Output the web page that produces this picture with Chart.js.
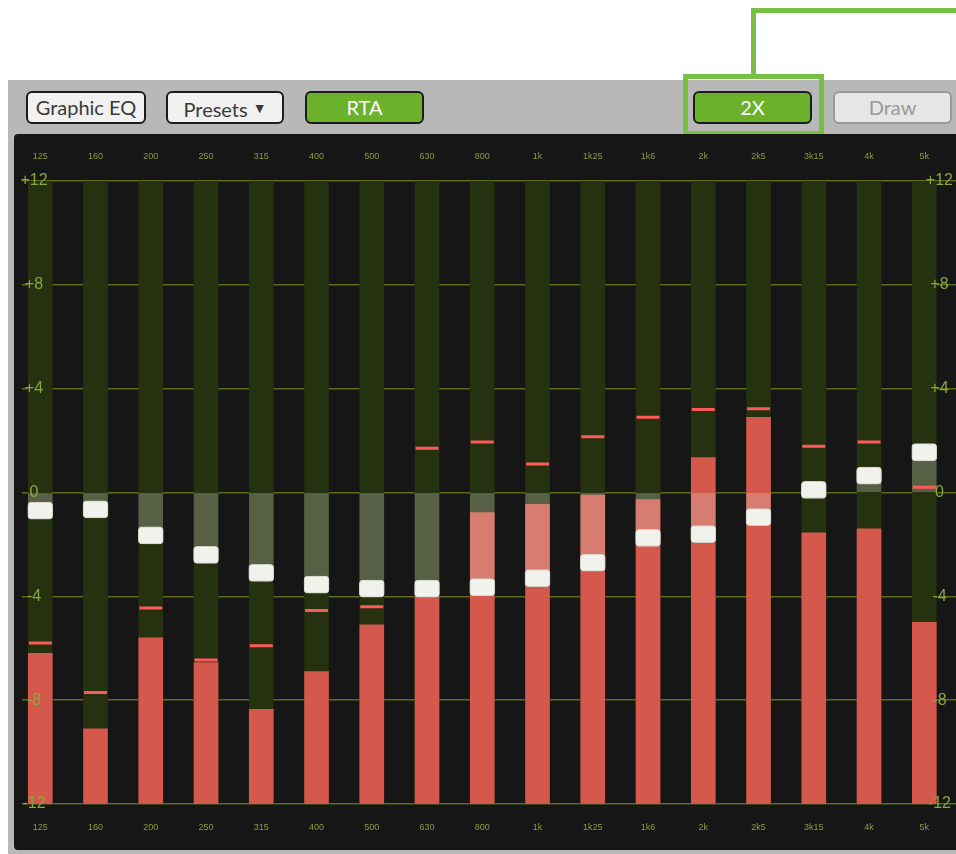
<!DOCTYPE html>
<html>
<head>
<meta charset="utf-8">
<title>Graphic EQ RTA</title>
<script src="https://cdn.jsdelivr.net/npm/chart.js@4.4.1/dist/chart.umd.min.js"></script>
<style>
  html, body { margin: 0; padding: 0; background: #fff; width: 956px; height: 854px; overflow: hidden; font-family: Lato, "Liberation Sans", sans-serif; }
  .frame { position: absolute; left: 8px; top: 80px; width: 948px; height: 774px; background: #b8b8b8; }
  .panel { position: absolute; left: 14px; top: 134px; width: 942px; height: 716px; background: #161616; border-radius: 4px 0 0 4px; }
  #eq { position: absolute; left: 14px; top: 135px; }
  .btn { position: absolute; top: 91px; box-sizing: border-box; height: 33px; border: 2px solid #1c1c1c; border-radius: 6px;
         background: #f1f1f1; color: #3a3a3a; font-size: 20px; line-height: 29px; text-align: center; }
  .btn.on { background: #6cb12a; color: #fff; }
  .btn.off { border-color: #9a9a9a; background: #e6e6e6; color: #9a9a9a; }
  .tri { font-size: 14px; vertical-align: 4px; margin-left: 5px; }
  .hl { position: absolute; left: 683px; top: 74px; width: 141px; height: 62px; box-sizing: border-box; border: 5px solid #78c043; }
  .lv { position: absolute; left: 751px; top: 8px; width: 5px; height: 67px; background: #78c043; }
  .lh { position: absolute; left: 751px; top: 8px; width: 205px; height: 5px; background: #78c043; }
</style>
</head>
<body>
<div class="frame"></div>
<div class="btn" style="left:26px;width:120px;">Graphic EQ</div>
<div class="btn" style="left:166px;width:118px;">Presets<span class="tri">&#9660;</span></div>
<div class="btn on" style="left:305px;width:119px;">RTA</div>
<div class="btn on" style="left:693px;width:119px;">2X</div>
<div class="btn off" style="left:833px;width:119px;">Draw</div>
<div class="hl"></div>
<div class="lv"></div>
<div class="lh"></div>
<div class="panel"></div>
<canvas id="eq" width="942" height="715"></canvas>
<script>
// band names (top and bottom labels)
const bands = ['125', '160', '200', '250', '315', '400', '500', '630', '800', '1k', '1k25', '1k6', '2k', '2k5', '3k15', '4k', '5k'];
// fader gain per band, dB
const gainDb = [-0.7, -0.65, -1.65, -2.4, -3.1, -3.55, -3.7, -3.7, -3.65, -3.3, -2.7, -1.75, -1.6, -0.95, 0.1, 0.65, 1.55];
// RTA level per band, dB
const rtaDb = [-6.2, -9.1, -5.6, -6.55, -8.35, -6.9, -5.1, -4.0, -0.77, -0.46, -0.1, -0.27, 1.35, 2.9, -1.55, -1.4, -5.0];
// RTA peak hold per band, dB
const peakDb = [-5.8, -7.7, -4.45, -6.45, -5.9, -4.55, -4.4, 1.7, 1.95, 1.1, 2.15, 2.9, 3.2, 3.23, 1.78, 1.95, 0.2];
// y tick labels
const yTicks = [-12, -8, -4, 0, 4, 8, 12];
const yTickLabels = ['-12', '-8', '-4', '0', '+4', '+8', '+12'];

const DB_MIN = -12, DB_MAX = 12;
const HANDLE = 0.33; // half height of fader cap in dB

const tickColor = '#8aa83a';
const gridColor = '#5b6a20';

function yLabel(v) {
  const i = yTicks.indexOf(v);
  return i < 0 ? '' : yTickLabels[i];
}

const xCommon = {
  type: 'linear',
  min: -0.323,
  max: 16.574,
  offset: false,
  grid: { display: false, drawTicks: false, offset: false },
  border: { display: false },
  ticks: {
    color: '#8d9a42',
    font: { size: 9, family: 'Liberation Sans' },
    padding: 18.6,
    maxRotation: 0,
    autoSkip: false,
    callback: v => bands[v]
  },
  afterBuildTicks: s => { s.ticks = bands.map((b, i) => ({ value: i })); },
  afterFit: s => { s.height = 46; }
};

// label-only y axis, labels drawn above the bars
function yLabels(position, padding) {
  return {
    type: 'linear',
    position: position,
    axis: 'y',
    min: DB_MIN,
    max: DB_MAX,
    border: { display: false },
    grid: { display: false, drawTicks: false },
    ticks: {
      z: 1,
      stepSize: 4,
      mirror: true,
      crossAlign: 'center',
      padding: padding,
      color: tickColor,
      font: { size: 16, family: 'Liberation Sans' },
      callback: yLabel
    },
    afterFit: s => { s.width = 0; }
  };
}

new Chart(document.getElementById('eq').getContext('2d'), {
  type: 'bar',
  data: {
    datasets: [
      {
        // fader caps
        label: 'gain',
        order: 0,
        data: gainDb.map((g, i) => ({ x: i, y: [g - HANDLE, g + HANDLE] })),
        backgroundColor: '#f2f2ec',
        borderColor: '#cfcfc6',
        borderWidth: 1,
        borderSkipped: false,
        borderRadius: 4,
        barThickness: 25,
        grouped: false
      },
      {
        // peak hold marks
        type: 'line',
        label: 'peak',
        order: 1,
        data: peakDb.map((p, i) => ({ x: i, y: p })),
        showLine: false,
        pointStyle: 'line',
        pointRadius: 11.5,
        pointBorderWidth: 3,
        pointBorderColor: '#ff5a5a',
        pointBackgroundColor: '#ff5a5a'
      },
      {
        // gain fill from 0 to fader
        label: 'gainFill',
        order: 2,
        data: gainDb.map((g, i) => ({ x: i, y: [0, g] })),
        backgroundColor: 'rgba(220,218,210,0.28)',
        borderSkipped: false,
        barThickness: 24,
        grouped: false
      },
      {
        // RTA level
        label: 'rta',
        order: 3,
        data: rtaDb.map((r, i) => ({ x: i, y: [DB_MIN, r] })),
        backgroundColor: '#d4584b',
        borderSkipped: false,
        barThickness: 24,
        grouped: false
      },
      {
        // band tracks
        label: 'track',
        order: 4,
        data: bands.map((b, i) => ({ x: i, y: [DB_MIN, DB_MAX] })),
        backgroundColor: '#25310f',
        borderSkipped: false,
        barThickness: 24,
        grouped: false
      }
    ]
  },
  options: {
    responsive: false,
    animation: false,
    events: [],
    layout: { padding: 0, autoPadding: false },
    plugins: { legend: { display: false }, tooltip: { enabled: false } },
    scales: {
      x: Object.assign({}, xCommon, { position: 'bottom' }),
      xTop: Object.assign({}, xCommon, { position: 'top', axis: 'x' }),
      y: {
        // grid only, under the bars
        type: 'linear',
        position: 'left',
        min: DB_MIN,
        max: DB_MAX,
        border: { display: false },
        grid: { color: gridColor, lineWidth: 1.5, drawTicks: false },
        ticks: { stepSize: 4, display: false },
        afterFit: s => { s.width = 0; }
      },
      yLeft: yLabels('left', -2),
      yRight: yLabels('right', -3)
    }
  }
});
</script>
</body>
</html>
